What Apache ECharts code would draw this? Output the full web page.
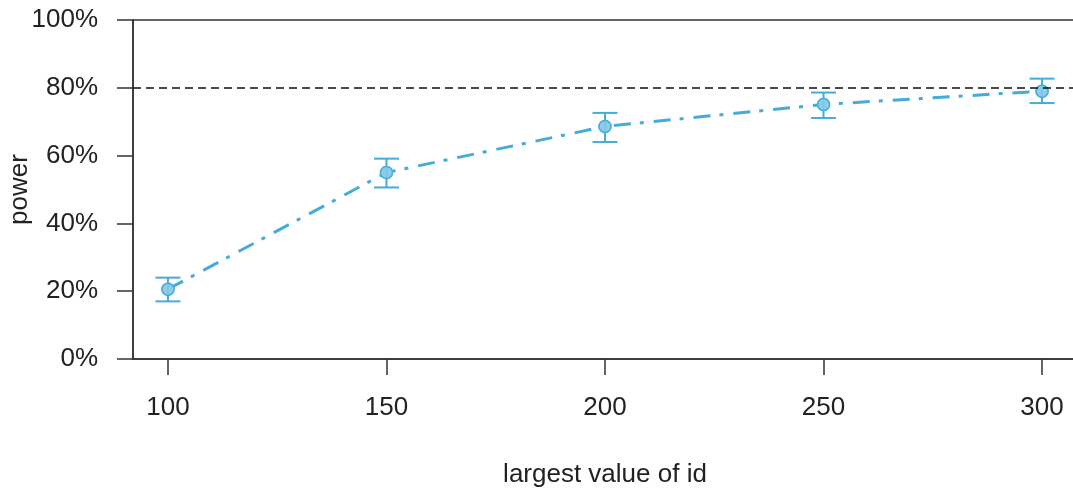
<!DOCTYPE html>
<html>
<head>
<meta charset="utf-8">
<script src="https://cdn.jsdelivr.net/npm/echarts@6/dist/echarts.min.js"></script>
<style>
  html, body { margin: 0; padding: 0; background: #fff; }
  #chart { width: 1073px; height: 489px; }
</style>
</head>
<body>
<div id="chart"></div>
<script>
// largest value of id vs estimated power, with interval bounds
const idMax = [100, 150, 200, 250, 300];
const power = [20.6, 55.0, 68.6, 75.1, 79.0];
const powerLow = [17.0, 50.6, 64.0, 71.1, 75.5];
const powerHigh = [24.0, 59.1, 72.6, 78.6, 82.7];
const xTicks = [100, 150, 200, 250, 300];
const yTicks = [0, 20, 40, 60, 80, 100];
const targetPower = 80;

const blue = '#44acd8';
const fill = '#8dcde8';
const ink = '#333333';
const font = 'Liberation Sans, Arial, Helvetica, sans-serif';

const points = idMax.map((x, i) => [x, power[i]]);
const bars = idMax.map((x, i) => [x, powerLow[i], powerHigh[i]]);

const chart = echarts.init(document.getElementById('chart'), null, { renderer: 'canvas' });

chart.setOption({
  animation: false,
  backgroundColor: '#ffffff',
  grid: {
    left: 133, top: 20, width: 944, height: 339,
    containLabel: false, outerBoundsMode: 'none',
    show: true, borderColor: ink, borderWidth: 1.5, backgroundColor: 'transparent'
  },
  xAxis: {
    type: 'value', min: 92, max: 308,
    splitLine: { show: false },
    axisLine: { show: true, lineStyle: { color: ink, width: 1.5 } },
    axisTick: { show: true, customValues: xTicks, length: 16, lineStyle: { color: ink, width: 1.5 } },
    axisLabel: { customValues: xTicks, margin: 36, color: '#222', fontSize: 26, fontFamily: font },
    name: 'largest value of id', nameLocation: 'middle', nameGap: 103,
    nameTextStyle: { color: '#222', fontSize: 26, fontFamily: font }
  },
  yAxis: {
    type: 'value', min: 0, max: 100,
    splitLine: { show: false },
    axisLine: { show: true, lineStyle: { color: ink, width: 1.5 } },
    axisTick: { show: true, customValues: yTicks, length: 16, lineStyle: { color: ink, width: 1.5 } },
    axisLabel: { customValues: yTicks, margin: 35, color: '#222', fontSize: 26, fontFamily: font,
      formatter: v => v + '%' },
    name: 'power', nameLocation: 'middle', nameGap: 100, nameMoveOverlap: false,
    nameTextStyle: { color: '#222', fontSize: 26, fontFamily: font }
  },
  series: [
    {
      type: 'line',
      data: points,
      z: 2,
      symbol: 'circle',
      symbolSize: 12,
      itemStyle: { color: fill, borderColor: blue, borderWidth: 1.5 },
      lineStyle: { color: blue, width: 3, type: [17, 9, 4, 10] },
      markLine: {
        silent: true, symbol: 'none', z: 10,
        label: { show: false },
        lineStyle: { color: '#111', width: 1.5, type: [8, 5] },
        data: [{ yAxis: targetPower }]
      }
    },
    {
      type: 'custom',
      z: 3,
      data: bars,
      renderItem: function (params, api) {
        const x = api.value(0);
        const lo = api.coord([x, api.value(1)]);
        const hi = api.coord([x, api.value(2)]);
        const half = 12.5;
        const style = { stroke: blue, lineWidth: 2, fill: null };
        return {
          type: 'group',
          children: [
            { type: 'line', shape: { x1: lo[0], y1: lo[1], x2: hi[0], y2: hi[1] }, style },
            { type: 'line', shape: { x1: lo[0] - half, y1: lo[1], x2: lo[0] + half, y2: lo[1] }, style },
            { type: 'line', shape: { x1: hi[0] - half, y1: hi[1], x2: hi[0] + half, y2: hi[1] }, style }
          ]
        };
      }
    },
    {
      type: 'scatter',
      z: 4,
      data: points,
      symbol: 'circle',
      symbolSize: 12,
      itemStyle: { color: fill, borderColor: blue, borderWidth: 1.5 }
    }
  ]
});
</script>
</body>
</html>
